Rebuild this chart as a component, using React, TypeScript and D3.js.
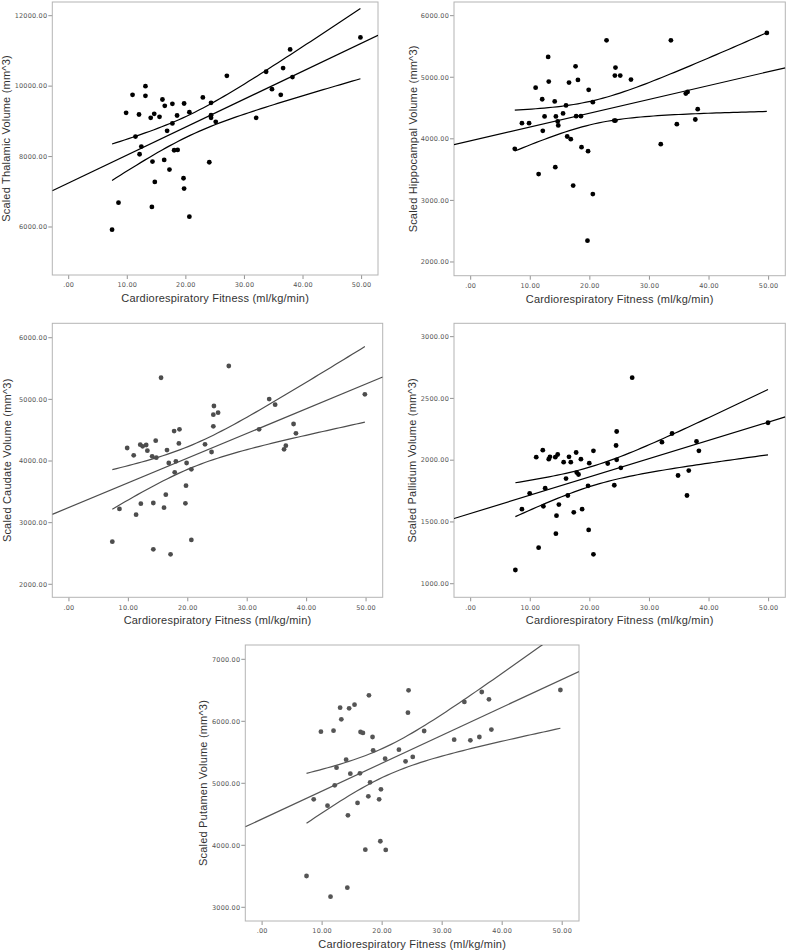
import React, { useEffect, useRef } from "react";
import * as d3 from "d3";

// fitness (ml/kg/min) vs scaled volume (mm^3), one pair per subject
const thalamicPoints: [number, number][] = [
  [7.4, 5924], [8.5, 6692], [9.8, 9242], [10.9, 9754], [11.4, 8569], [12.0, 9194],
  [12.1, 8066], [12.4, 8284], [13.1, 10000], [13.1, 9725], [14.0, 9100], [14.2, 6570],
  [14.3, 7858], [14.6, 9213], [14.7, 7280], [15.5, 9128], [16.0, 9621], [16.3, 7905],
  [16.4, 9441], [16.8, 8730], [17.2, 7630], [17.7, 9498], [17.7, 8940], [18.0, 8180],
  [18.5, 9166], [18.6, 8190], [19.6, 7384], [19.7, 9507], [19.7, 7090], [20.6, 9260],
  [20.6, 6294], [22.9, 9678], [24.0, 7839], [24.3, 9526], [24.3, 9175], [24.3, 9100],
  [25.1, 8986], [27.0, 10294], [32.0, 9100], [33.7, 10408], [34.7, 9915], [36.2, 9754],
  [36.6, 10512], [37.8, 11043], [38.2, 10256], [49.8, 11384],
];

const hippocampalPoints: [number, number][] = [
  [7.4, 3837], [8.6, 4254], [9.8, 4254], [10.9, 4830], [11.4, 3427], [12.0, 4643],
  [12.1, 4130], [12.4, 4363], [13.0, 5330], [13.1, 4930], [14.1, 4607], [14.2, 3540],
  [14.3, 4363], [14.6, 4282], [14.7, 4217], [15.5, 4412], [16.0, 4542], [16.2, 4038],
  [16.5, 4914], [16.8, 3995], [17.2, 3240], [17.6, 5178], [17.7, 4368], [18.0, 4957],
  [18.5, 4368], [18.6, 3865], [19.6, 2346], [19.7, 3800], [19.8, 4795], [20.5, 4595],
  [20.5, 3103], [22.8, 5600], [24.1, 4297], [24.2, 5027], [24.3, 5157], [24.3, 4297],
  [25.1, 5027], [26.9, 4962], [31.9, 3913], [33.6, 5600], [34.6, 4238], [36.1, 4735],
  [36.4, 4762], [37.7, 4314], [38.1, 4481], [49.7, 5719],
];

const caudatePoints: [number, number][] = [
  [7.3, 2692], [8.5, 3222], [9.8, 4211], [10.9, 4092], [11.3, 3130], [12.0, 4265],
  [12.1, 3308], [12.4, 4238], [13.0, 4260], [13.2, 4168], [14.0, 4076], [14.2, 2568],
  [14.2, 3319], [14.6, 4330], [14.7, 4054], [15.5, 5351], [16.0, 3243], [16.3, 3454],
  [16.5, 4178], [16.8, 3968], [17.1, 2486], [17.7, 4486], [17.8, 3816], [18.0, 3995],
  [18.5, 4286], [18.6, 4514], [19.6, 3314], [19.7, 3600], [19.8, 3968], [20.6, 3865],
  [20.6, 2719], [22.9, 4270], [24.0, 4146], [24.3, 4562], [24.3, 4751], [24.4, 4892],
  [25.1, 4784], [26.9, 5541], [32.0, 4514], [33.7, 5005], [34.7, 4914], [36.2, 4189],
  [36.5, 4249], [37.8, 4600], [38.2, 4449], [49.8, 5081],
];

const pallidumPoints: [number, number][] = [
  [7.5, 1111], [8.6, 1603], [9.9, 1732], [11.0, 2024], [11.4, 1292], [12.1, 2081],
  [12.2, 1627], [12.5, 1773], [13.1, 2008], [13.3, 2027], [14.2, 2024], [14.3, 1405],
  [14.4, 1551], [14.6, 2046], [14.8, 1641], [15.6, 1984], [16.0, 1851], [16.3, 1714],
  [16.5, 2027], [16.8, 1984], [17.3, 1578], [17.7, 2062], [17.8, 1900], [18.1, 1884],
  [18.5, 2008], [18.7, 1603], [19.7, 1792], [19.8, 1435], [19.9, 1976], [20.6, 2076],
  [20.6, 1238], [23.0, 1973], [24.1, 1797], [24.4, 2119], [24.5, 2003], [24.5, 2232],
  [25.2, 1938], [27.1, 2668], [32.1, 2146], [33.8, 2216], [34.8, 1876], [36.3, 1714],
  [36.6, 1916], [37.9, 2151], [38.3, 2076], [49.9, 2303],
];

const putamenPoints: [number, number][] = [
  [7.4, 3505], [8.6, 4742], [9.8, 5833], [10.9, 4640], [11.4, 3172], [11.9, 5849],
  [12.1, 4968], [12.4, 5253], [13.0, 6220], [13.2, 6032], [14.0, 5382], [14.2, 3317],
  [14.3, 4484], [14.5, 6210], [14.7, 5156], [15.4, 6269], [15.9, 4683], [16.3, 5161],
  [16.4, 5828], [16.8, 5812], [17.2, 3930], [17.7, 4790], [17.8, 6419], [18.0, 5016],
  [18.4, 5747], [18.5, 5532], [19.5, 4742], [19.7, 4065], [19.8, 4903], [20.5, 5398],
  [20.6, 3925], [22.8, 5543], [23.9, 5355], [24.3, 6140], [24.4, 6500], [25.1, 5425],
  [27.0, 5844], [32.0, 5704], [33.7, 6312], [34.7, 5694], [36.2, 5747], [36.6, 6473],
  [37.8, 6355], [38.2, 5866], [49.7, 6505],
];

const xTicks = [0, 10, 20, 30, 40, 50];
const thalamicTicks = [6000, 8000, 10000, 12000];
const hippocampalTicks = [2000, 3000, 4000, 5000, 6000];
const caudateTicks = [2000, 3000, 4000, 5000, 6000];
const pallidumTicks = [1000, 1500, 2000, 2500, 3000];
const putamenTicks = [3000, 4000, 5000, 6000, 7000];

const xLabel = "Cardiorespiratory Fitness (ml/kg/min)";

const panels = [
  { id: "thal", title: "Scaled Thalamic Volume (mm^3)", points: thalamicPoints, ticks: thalamicTicks,
    yDomain: [4637, 12389], x: 52.3, y: 2, w: 325.7, h: 273, titleX: 6, color: "#000" },
  { id: "hipp", title: "Scaled Hippocampal Volume (mm^3)", points: hippocampalPoints, ticks: hippocampalTicks,
    yDomain: [1777, 6222], x: 454, y: 2, w: 331.3, h: 273.7, titleX: 413, color: "#000" },
  { id: "caud", title: "Scaled Caudate Volume (mm^3)", points: caudatePoints, ticks: caudateTicks,
    yDomain: [1789, 6234], x: 52.3, y: 323.3, w: 330.4, h: 274, titleX: 7, color: "#4d4d4d" },
  { id: "pall", title: "Scaled Pallidum Volume (mm^3)", points: pallidumPoints, ticks: pallidumTicks,
    yDomain: [890, 3108], x: 454, y: 323.3, w: 331.3, h: 274, titleX: 412, color: "#000" },
  { id: "puta", title: "Scaled Putamen Volume (mm^3)", points: putamenPoints, ticks: putamenTicks,
    yDomain: [2779, 7231], x: 245.3, y: 645, w: 333.7, h: 276, titleX: 203, color: "#555" },
];

// least squares fit + 95% CI of the mean
function fit(points: [number, number][]) {
  const n = points.length;
  const xbar = d3.mean(points, (d) => d[0])!;
  const ybar = d3.mean(points, (d) => d[1])!;
  const sxx = d3.sum(points, (d) => (d[0] - xbar) ** 2);
  const sxy = d3.sum(points, (d) => (d[0] - xbar) * (d[1] - ybar));
  const b = sxy / sxx;
  const a = ybar - b * xbar;
  const sse = d3.sum(points, (d) => (d[1] - a - b * d[0]) ** 2);
  const s = Math.sqrt(sse / (n - 2));
  const t = 2.015;
  const pred = (x: number) => a + b * x;
  const half = (x: number) => t * s * Math.sqrt(1 / n + (x - xbar) ** 2 / sxx);
  return { pred, half };
}

const App = () => {
  const svgRef = useRef<SVGSVGElement>(null);

  useEffect(() => {
    const svg = d3.select(svgRef.current);
    svg.selectAll("*").remove();

    panels.forEach((p) => {
      const xScale = d3.scaleLinear().domain([-2.8, 52.8]).range([p.x, p.x + p.w]);
      const yScale = d3.scaleLinear().domain(p.yDomain).range([p.y + p.h, p.y]);
      const bottom = p.y + p.h;

      svg.append("clipPath").attr("id", `clip-${p.id}`)
        .append("rect").attr("x", p.x).attr("y", p.y).attr("width", p.w).attr("height", p.h);

      const g = svg.append("g");

      // y ticks
      p.ticks.forEach((v) => {
        g.append("line")
          .attr("x1", p.x - 4).attr("x2", p.x)
          .attr("y1", yScale(v)).attr("y2", yScale(v))
          .attr("stroke", "#777").attr("stroke-width", 0.8);
        g.append("text")
          .attr("x", p.x - 5).attr("y", yScale(v)).attr("dy", "0.35em")
          .attr("text-anchor", "end")
          .style("font-family", "DejaVu Sans, sans-serif")
          .style("font-size", "6.5px").style("letter-spacing", "0.2px")
          .attr("fill", "#555")
          .text(v.toFixed(2));
      });

      // x ticks
      xTicks.forEach((v) => {
        g.append("line")
          .attr("x1", xScale(v)).attr("x2", xScale(v))
          .attr("y1", bottom).attr("y2", bottom + 4)
          .attr("stroke", "#777").attr("stroke-width", 0.8);
        g.append("text")
          .attr("x", xScale(v)).attr("y", bottom + 10).attr("dy", "0.35em")
          .attr("text-anchor", "middle")
          .style("font-family", "DejaVu Sans, sans-serif")
          .style("font-size", "6.5px").style("letter-spacing", "0.2px")
          .attr("fill", "#555")
          .text(v === 0 ? ".00" : v.toFixed(2));
      });

      // frame
      g.append("rect")
        .attr("x", p.x).attr("y", p.y).attr("width", p.w).attr("height", p.h)
        .attr("fill", "none").attr("stroke", "#b4b4b4").attr("stroke-width", 1);

      // fit line and CI
      const { pred, half } = fit(p.points);
      const line = d3.line<number>().x((x) => xScale(x));
      const [xmin, xmax] = d3.extent(p.points, (d) => d[0]) as [number, number];
      const xs = d3.range(0, 61).map((i) => xmin + ((xmax - xmin) * i) / 60);

      const lines = g.append("g").attr("clip-path", `url(#clip-${p.id})`)
        .attr("fill", "none").attr("stroke", p.color).attr("stroke-width", 1.2);
      lines.append("path").attr("d", line.y((x) => yScale(pred(x)))([-2.8, 52.8]));
      lines.append("path").attr("d", line.y((x) => yScale(pred(x) + half(x)))(xs));
      lines.append("path").attr("d", line.y((x) => yScale(pred(x) - half(x)))(xs));

      // points
      g.append("g").selectAll("circle")
        .data(p.points)
        .join("circle")
        .attr("cx", (d) => xScale(d[0]))
        .attr("cy", (d) => yScale(d[1]))
        .attr("r", 2.4)
        .attr("fill", p.color);

      // axis titles
      g.append("text")
        .attr("x", p.x + p.w / 2).attr("y", bottom + 27)
        .attr("text-anchor", "middle")
        .style("font-family", "Liberation Sans, Arial, sans-serif")
        .style("font-size", "11px").style("letter-spacing", "0.2px")
        .attr("fill", "#333")
        .text(xLabel);

      g.append("text")
        .attr("transform", `translate(${p.titleX + 4}, ${p.y + p.h / 2}) rotate(-90)`)
        .attr("text-anchor", "middle")
        .style("font-family", "Liberation Sans, Arial, sans-serif")
        .style("font-size", "11px").style("letter-spacing", "0.2px")
        .attr("fill", "#333")
        .text(p.title);
    });
  }, []);

  return (
    <svg
      ref={svgRef}
      width={787}
      height={950}
      style={{ position: "absolute", left: 0, top: 0, background: "#fff", display: "block" }}
    />
  );
};

export default App;
